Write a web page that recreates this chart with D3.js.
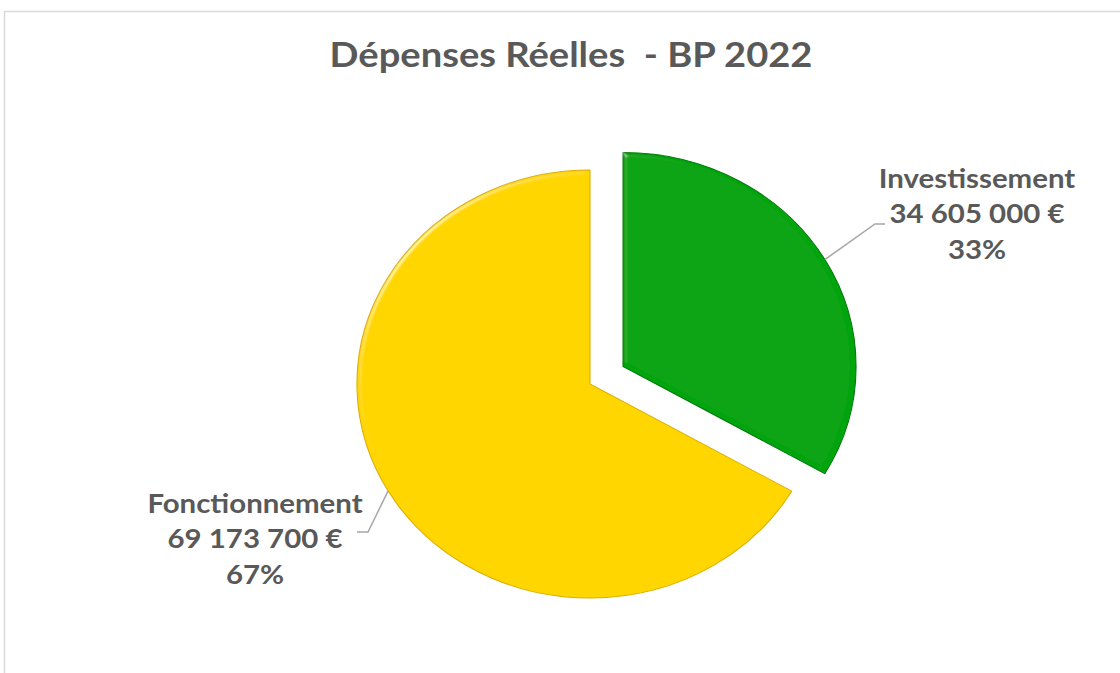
<!DOCTYPE html>
<html>
<head>
<meta charset="utf-8">
<script src="https://cdn.jsdelivr.net/npm/d3@7"></script>
<style>
  body { margin: 0; background: #fff; }
  svg { display: block; }
  text { font-family: Lato, "Open Sans", sans-serif; font-weight: bold; fill: #595959; white-space: pre; }
</style>
</head>
<body>
<div class="pieChart"></div>
<script>
let w = 1120;
let h = 673;

// data
const categories = ["Investissement", "Fonctionnement"];
const amounts = [34605000, 69173700];
const amountLabels = ["34 605 000 €", "69 173 700 €"];
const percentLabels = ["33%", "67%"];
const colors = ["#05a40e", "#ffd600"];
const edgeColors = ["#037a08", "#dcae00"];
const exploded = [35, 0];

const cx = 590, cy = 384;
const radius = 214;
const stretch = 1.089;   // the reference is a bit wider than tall

const svg = d3.select(".pieChart")
  .append("svg")
  .attr("width", w)
  .attr("height", h);

// frame
svg.append("path")
  .attr("d", "M4.5," + h + " V11.5 H" + w)
  .attr("fill", "none")
  .attr("stroke", "#d9d9d9")
  .attr("stroke-width", 1.5);

// bevel filter
const defs = svg.append("defs");
const f = defs.append("filter").attr("id", "bevel")
  .attr("x", "-10%").attr("y", "-10%").attr("width", "120%").attr("height", "120%");
f.append("feGaussianBlur").attr("in", "SourceAlpha").attr("stdDeviation", 2.5).attr("result", "blur");
const spec = f.append("feSpecularLighting")
  .attr("in", "blur").attr("surfaceScale", 3).attr("specularConstant", 0.6)
  .attr("specularExponent", 45).attr("lighting-color", "#ffffff").attr("result", "spec");
spec.append("feDistantLight").attr("azimuth", 225).attr("elevation", 35);
f.append("feComposite").attr("in", "spec").attr("in2", "SourceAlpha").attr("operator", "in").attr("result", "specIn");
f.append("feComposite").attr("in", "SourceGraphic").attr("in2", "specIn")
  .attr("operator", "arithmetic").attr("k1", 0).attr("k2", 1).attr("k3", 0.45).attr("k4", 0);

// stretched text helper
function stretchedText(x, y, size, lines, gap) {
  let t = svg.append("g")
    .attr("transform", "translate(" + x + "," + y + ") scale(" + stretch + ",1)")
    .append("text")
    .attr("text-anchor", "middle")
    .style("font-size", size + "px");
  lines.forEach((s, k) => {
    t.append("tspan").attr("x", 0).attr("y", k * gap).text(s);
  });
}

// title
stretchedText(571, 67, 35, ["Dépenses Réelles  - BP 2022"], 0);

const pie = d3.pie().sort(null).value(d => d);
const arcs = pie(amounts);
const arc = d3.arc().innerRadius(0).outerRadius(radius);

const g = svg.append("g")
  .attr("transform", "translate(" + cx + "," + cy + ") scale(" + stretch + ",1)");

g.selectAll("path.slice")
  .data(arcs)
  .enter()
  .append("path")
  .attr("class", "slice")
  .attr("transform", (d, i) => {
    let a = (d.startAngle + d.endAngle) / 2;
    return "translate(" + (Math.sin(a) * exploded[i]) + "," + (-Math.cos(a) * exploded[i]) + ")";
  })
  .attr("d", arc)
  .attr("fill", (d, i) => colors[i])
  .attr("stroke", (d, i) => edgeColors[i])
  .attr("stroke-width", 1)
  .attr("filter", "url(#bevel)");

// labels
const labelPos = [[977, 188], [255, 513]];
const elbow = [[{x: 875, y: 224}, {x: 885, y: 224}], [{x: 368, y: 532}, {x: 357, y: 532}]];

arcs.forEach((d, i) => {
  let a = (d.startAngle + d.endAngle) / 2;
  let r = radius + exploded[i];
  let sx = cx + Math.sin(a) * r * stretch;
  let sy = cy - Math.cos(a) * r;
  let pts = [{x: sx, y: sy}].concat(elbow[i]);
  svg.append("path")
    .attr("d", d3.line().x(p => p.x).y(p => p.y)(pts))
    .attr("fill", "none")
    .attr("stroke", "#a6a6a6")
    .attr("stroke-width", 1.5);

  stretchedText(labelPos[i][0], labelPos[i][1], 27,
    [categories[i], amountLabels[i], percentLabels[i]], 35.5);
});
</script>
</body>
</html>
